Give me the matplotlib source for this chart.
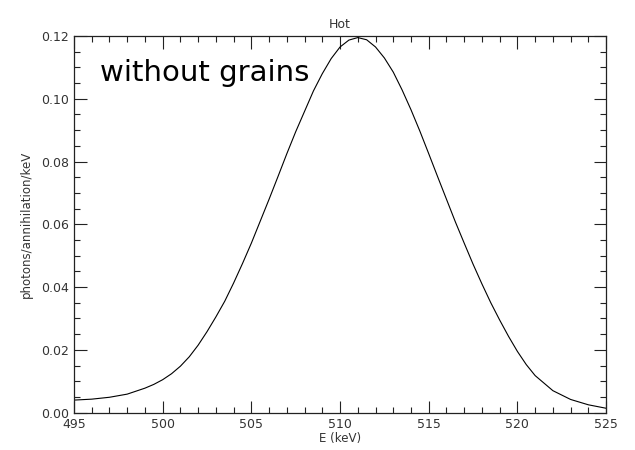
import matplotlib
matplotlib.use("Agg")
import matplotlib.pyplot as plt
from matplotlib.ticker import MultipleLocator

# === ข้อมูลที่อ่านจากภาพ (keV, photons/annihilation/keV)
energy = [495, 496, 497, 498, 499, 499.5, 500, 500.5, 501, 501.5, 502, 502.5,
          503, 503.5, 504, 504.5, 505, 505.5, 506, 506.5, 507, 507.5, 508, 508.5,
          509, 509.5, 510, 510.5, 511, 511.5, 512, 512.5, 513, 513.5, 514, 514.5,
          515, 515.5, 516, 516.5, 517, 517.5, 518, 518.5, 519, 519.5, 520, 520.5,
          521, 522, 523, 524, 525]
flux = [0.0040, 0.0043, 0.0049, 0.0059, 0.0078, 0.0090, 0.0105, 0.0124, 0.0148, 0.0178, 0.0215, 0.0258,
        0.0305, 0.0355, 0.0413, 0.0475, 0.0540, 0.0610, 0.0680, 0.0752, 0.0825, 0.0895, 0.0960, 0.1025,
        0.1080, 0.1128, 0.1165, 0.1187, 0.1195, 0.1188, 0.1165, 0.1130, 0.1085, 0.1028, 0.0965, 0.0897,
        0.0825, 0.0752, 0.0680, 0.0608, 0.0540, 0.0473, 0.0410, 0.0350, 0.0295, 0.0243, 0.0195, 0.0153,
        0.0118, 0.0070, 0.0042, 0.0025, 0.0014]

x_ticks = [495, 500, 505, 510, 515, 520, 525]
y_ticks = [0.00, 0.02, 0.04, 0.06, 0.08, 0.10, 0.12]

# === รูป
fig = plt.figure(figsize=(6.35, 4.5), dpi=100)
ax = fig.add_axes([0.1165, 0.083, 0.838, 0.837])

ax.plot(energy, flux, color="black", linewidth=0.8)

ax.set_xlim(495, 525)
ax.set_ylim(0, 0.12)
ax.set_xticks(x_ticks)
ax.set_yticks(y_ticks)
ax.set_xticklabels([str(v) for v in x_ticks])
ax.set_yticklabels(["%.2f" % v for v in y_ticks])
ax.xaxis.set_minor_locator(MultipleLocator(1))
ax.yaxis.set_minor_locator(MultipleLocator(0.005))

ax.tick_params(which="both", direction="in", top=True, right=True,
               color="#222222", labelsize=9, labelcolor="#333333", width=0.8)
ax.tick_params(which="major", length=9)
ax.tick_params(which="minor", length=4.5)
for s in ax.spines.values():
    s.set_linewidth(0.9)
    s.set_color("#222222")

ax.set_title("Hot", fontsize=9, color="#333333", pad=6)
ax.set_xlabel("E (keV)", fontsize=8.5, color="#333333", labelpad=1)
ax.set_ylabel("photons/annihilation/keV", fontsize=8.5, color="#333333", labelpad=6)

# ป้ายข้อความในกรอบ
ax.text(0.048, 0.88, "without grains", transform=ax.transAxes,
        fontsize=21, color="black", ha="left", va="baseline")

plt.savefig("out.png", dpi=100)
plt.close()
